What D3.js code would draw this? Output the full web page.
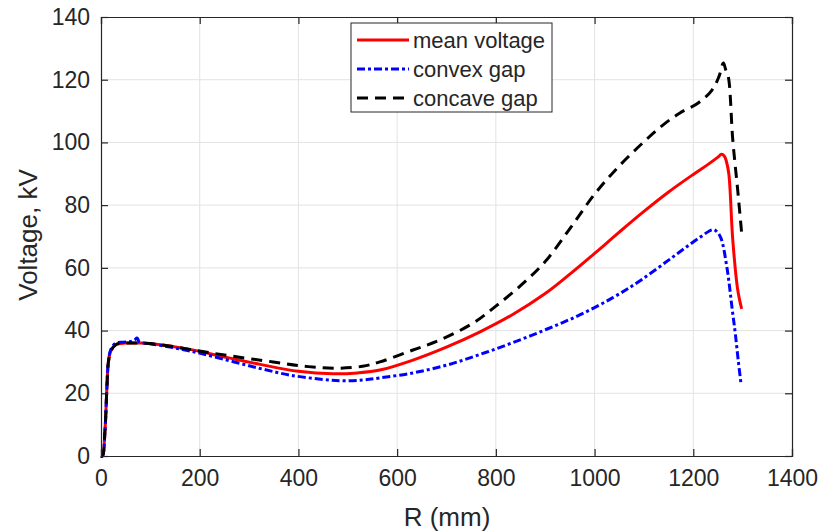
<!DOCTYPE html>
<html><head><meta charset="utf-8">
<script src="https://cdn.jsdelivr.net/npm/d3@7"></script>
<style>body{margin:0;background:#fff}svg{display:block}text{font-family:"Liberation Sans",Arial,sans-serif;fill:#262626}</style>
</head><body><svg id="c" width="830" height="532"></svg>
<script>
const xTicks = [0,200,400,600,800,1000,1200,1400];
const yTicks = [0,20,40,60,80,100,120,140];
const seriesNames = ["mean voltage","convex gap","concave gap"];

const rMean = [0,3,8,12,15,20,30,50,80,120,180,250,320,400,470,520,565,632,701,768,835,900,950,1000,1050,1100,1150,1200,1230,1250,1257,1263,1267,1272,1280,1290,1298];
const vMean = [0,0,8,22,30,33.5,35.5,36,36,35.5,34,31.6,29.3,27,26.2,26.5,27.4,30.6,34.8,39.6,45.2,51.8,58,64.6,71.4,78,84.2,89.8,93,95.3,96.2,95.6,94,90,68.9,53,46.9];

const rConvex = [0,3,8,12,15,20,30,45,60,68,73,78,90,120,180,250,320,383,450,490,530,565,632,701,768,835,904,970,1037,1093,1159,1214,1240,1248,1256,1268,1279,1285,1291,1297];
const vConvex = [0,0,8,22,30,34,36,36.3,36.5,37,37.6,36.3,36,35.3,33.5,30.8,28,25.8,24.4,24,24.2,24.9,26.5,29,32.4,36.2,40.5,45,50.5,56,63.5,69.8,72.2,71.5,69.5,60.3,46.6,39.2,30.6,22.6];

const rConcave = [0,3,8,12,15,20,30,50,80,120,180,250,349,420,480,530,565,632,687,754,800,850,900,950,1000,1050,1100,1139,1173,1210,1238,1252,1261,1266,1271,1280,1290,1298];
const vConcave = [0,0,8,22,30,33.5,35.5,36,36,35.5,34,32.2,30,28.5,28,28.6,30,33.8,37,42.4,47.8,54.3,62,72.5,83.5,92.5,100.2,105.6,109.4,112.6,116.7,121,125.3,123,120.9,100.8,84.8,71.1];

const W=830,H=532, L=101, T=17, PW=691, PH=439;
const svg = d3.select("#c");
const x = d3.scaleLinear().domain([0,1400]).range([L,L+PW]);
const y = d3.scaleLinear().domain([0,140]).range([T+PH,T]);
const axisCol="#262626", gridCol="#e3e3e3";

// grid
const g = svg.append("g");
g.selectAll(".gx").data(xTicks.slice(1,-1)).enter().append("line")
 .attr("x1",d=>x(d)).attr("x2",d=>x(d)).attr("y1",T).attr("y2",T+PH)
 .attr("stroke",gridCol).attr("stroke-width",1);
g.selectAll(".gy").data(yTicks.slice(1,-1)).enter().append("line")
 .attr("y1",d=>y(d)).attr("y2",d=>y(d)).attr("x1",L).attr("x2",L+PW)
 .attr("stroke",gridCol).attr("stroke-width",1);

// lines
const mk = (rs,vs)=>rs.map((r,i)=>[r,vs[i]]);
const line = d3.line().x(d=>x(d[0])).y(d=>y(d[1])).curve(d3.curveCatmullRom.alpha(0.5));
const styles = [
 {data:mk(rMean,vMean), color:"#ff0000", dash:null},
 {data:mk(rConvex,vConvex), color:"#0000ff", dash:"8,3,3,3"},
 {data:mk(rConcave,vConcave), color:"#000000", dash:"11,7"}
];
styles.forEach(s=>{
 svg.append("path").attr("d",line(s.data)).attr("fill","none")
  .attr("stroke",s.color).attr("stroke-width",3)
  .attr("stroke-dasharray",s.dash);
});

// axes
const tl=7;
const ax = svg.append("g");
ax.append("g").attr("transform",`translate(0,${T+PH})`)
 .call(d3.axisBottom(x).tickValues(xTicks).tickSize(-tl).tickPadding(14).tickFormat(d3.format("d")));
ax.append("g").attr("transform",`translate(0,${T})`)
 .call(d3.axisTop(x).tickValues(xTicks).tickSize(-tl).tickFormat(""));
ax.append("g").attr("transform",`translate(${L},0)`)
 .call(d3.axisLeft(y).tickValues(yTicks).tickSize(-tl).tickPadding(11).tickFormat(d3.format("d")));
ax.append("g").attr("transform",`translate(${L+PW},0)`)
 .call(d3.axisRight(y).tickValues(yTicks).tickSize(-tl).tickFormat(""));
ax.selectAll(".domain").attr("stroke",axisCol).attr("stroke-width",1.2);
ax.selectAll(".tick line").attr("stroke",axisCol).attr("stroke-width",1.2);
ax.selectAll(".tick text").attr("font-size",23).attr("fill",axisCol)
 .style("font-family","'Liberation Sans',Arial,sans-serif");

// labels
svg.append("text").attr("x",447).attr("y",526).attr("text-anchor","middle")
 .attr("font-size",26).text("R (mm)");
svg.append("text").attr("transform","translate(37,235) rotate(-90)").attr("text-anchor","middle")
 .attr("font-size",26).text("Voltage, kV");

// legend
const lg = svg.append("g");
lg.append("rect").attr("x",351).attr("y",23).attr("width",201).attr("height",89)
 .attr("fill","#fff").attr("stroke",axisCol).attr("stroke-width",1);
const rows=[40,69,98];
styles.forEach((s,i)=>{
 lg.append("line").attr("x1",357).attr("x2",409).attr("y1",rows[i]).attr("y2",rows[i])
  .attr("stroke",s.color).attr("stroke-width",3).attr("stroke-dasharray",s.dash);
 lg.append("text").attr("x",413).attr("y",rows[i]).attr("dy","0.35em")
  .attr("font-size",22).text(seriesNames[i]);
});
</script></body></html>
